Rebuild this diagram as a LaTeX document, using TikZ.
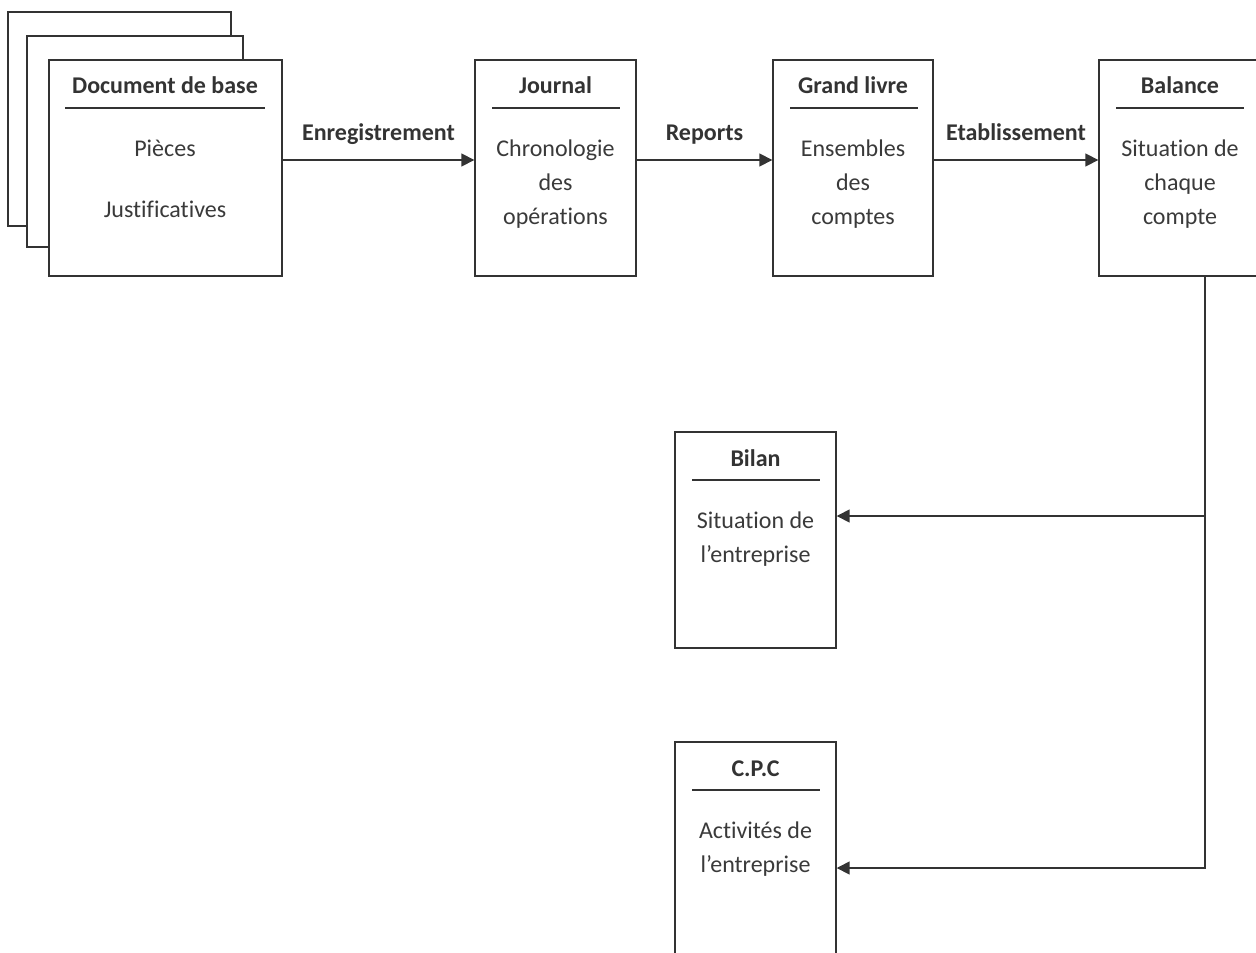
\documentclass[tikz,border=0pt]{standalone}
\usepackage{fontspec}
\setmainfont[Ligatures={NoCommon,NoContextual}]{Carlito}
\usetikzlibrary{arrows.meta}
\definecolor{ink}{HTML}{333333}
\definecolor{txt}{HTML}{3A3A3A}

\begin{document}
\begin{tikzpicture}[x=0.5pt,y=-0.5pt,
  box/.style={draw=ink, line width=0.7pt, fill=white, inner sep=0pt, minimum width=80.5pt, minimum height=108pt},
  title/.style={anchor=base, font=\bfseries\fontsize{12}{16.8}\selectfont, text=ink},
  body/.style={anchor=north, align=center, inner sep=0pt, font=\fontsize{12}{16.8}\selectfont, text=txt},
  rule/.style={draw=ink, line width=0.8pt},
  flow/.style={draw=ink, line width=0.8pt, -{Triangle[length=6.5pt,width=6.5pt]}},
  lbl/.style={anchor=base, yshift=9.5pt, font=\bfseries\fontsize{12}{16.8}\selectfont, text=ink}]

\useasboundingbox (0,0) rectangle (1256,952);
\clip (0,0) rectangle (1256,952);

\node[box, minimum width=111.5pt, minimum height=107pt] (back1) at (119.5,119) {};
\node[box, minimum width=108pt, minimum height=105.5pt] (back2) at (135,141.5) {};
\node[box, minimum width=116.5pt] (doc) at (165.5,168) {};
\node[box] (journal) at (555.5,168) {};
\node[box, minimum width=80pt] (grandlivre) at (853,168) {};
\node[box, minimum width=81pt] (balance) at (1180,168) {};
\node[box] (bilan) at (755.5,540) {};
\node[box] (cpc) at (755.5,850) {};

\node[title] (doct) at (165,94) {Document de base};
\node[title] (journalt) at (555.5,94) {Journal};
\node[title] (grandlivret) at (853,94) {Grand livre};
\node[title] (balancet) at (1180,94) {Balance};
\node[title] (bilant) at (755.5,466) {Bilan};
\node[title] (cpct) at (755.5,776) {C.P.C};

\path[rule] (65,108) -- (265,108);
\path[rule] (492,108) -- (620,108);
\path[rule] (790,108) -- (918,108);
\path[rule] (1116,108) -- (1244,108);
\path[rule] (692,480) -- (820,480);
\path[rule] (692,790) -- (820,790);

\node[body] (docb) at (165,133) {\strut Pièces\\[13.7pt]Justificatives};
\node[body] (journalb) at (555.5,133) {\strut Chronologie\\des\\opérations};
\node[body] (grandlivreb) at (853,133) {\strut Ensembles\\des\\comptes};
\node[body] (balanceb) at (1180,133) {\strut Situation de\\chaque\\compte};
\node[body] (bilanb) at (755.5,505) {\strut Situation de\\l’entreprise};
\node[body] (cpcb) at (755.5,815) {\strut Activités de\\l’entreprise};

\path[flow] ([yshift=4pt]doc.east) -- node[lbl] (enr) {Enregistrement} ([yshift=4pt]journal.west);
\path[flow] ([yshift=4pt]journal.east) -- node[lbl] (rep) {Reports} ([yshift=4pt]grandlivre.west);
\path[flow] ([yshift=4pt]grandlivre.east) -- node[lbl] (eta) {Etablissement} ([yshift=4pt]balance.west);

\coordinate (drop) at ([xshift=12.5pt]balance.south);
\coordinate (bilanin) at ([yshift=12pt]bilan.east);
\coordinate (cpcin) at ([yshift=-9pt]cpc.east);
\path[flow] (drop) |- (cpcin);
\path[flow] (drop |- bilanin) -- (bilanin);
\end{tikzpicture}
\end{document}
